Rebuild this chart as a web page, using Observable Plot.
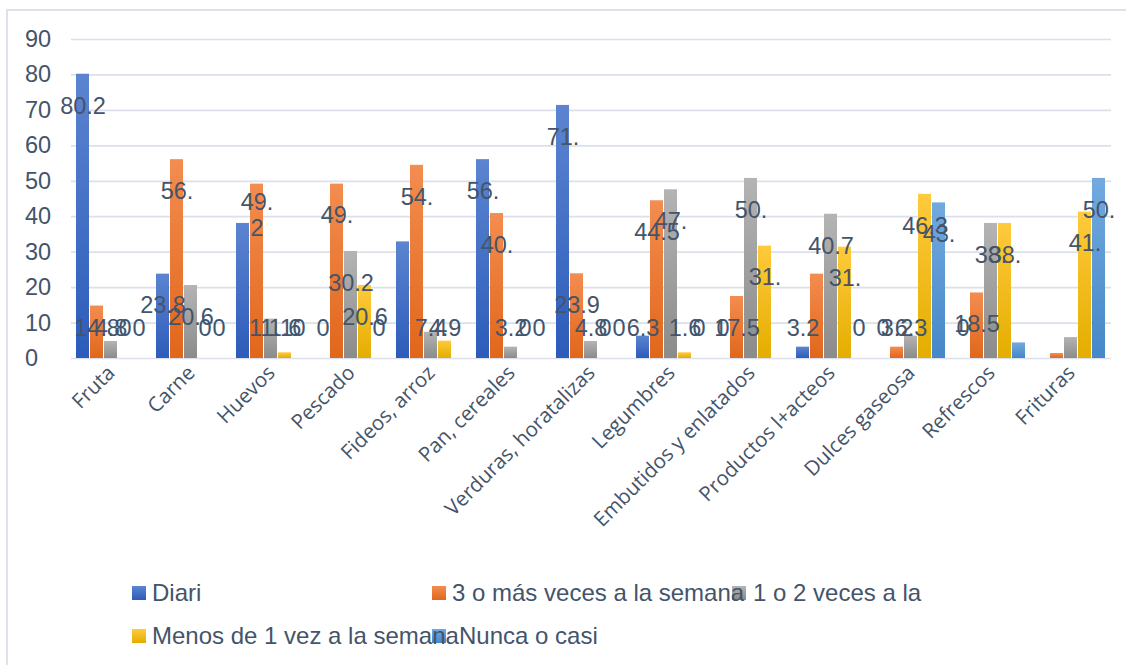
<!DOCTYPE html>
<html>
<head>
<meta charset="utf-8">
<script src="https://cdn.jsdelivr.net/npm/d3@7"></script>
<script src="https://cdn.jsdelivr.net/npm/@observablehq/plot@0.6"></script>
<style>
  html, body { margin: 0; padding: 0; background: #fff; }
  body { width: 1126px; height: 665px; overflow: hidden; position: relative; font-family: "Liberation Sans", Arial, sans-serif; }
  #frame { position: absolute; left: 6px; top: 9px; width: 1200px; height: 720px; border: 2px solid #dde1e9; box-sizing: border-box; }
  #chart { position: absolute; left: 0; top: 0; }
  #legend { position: absolute; left: 0; top: 565px; }
</style>
</head>
<body>
<div id="frame"></div>
<div id="chart"></div>
<div id="legend"></div>
<script>
// ---- data ----
const categories = ["Fruta", "Carne", "Huevos", "Pescado", "Fideos, arroz", "Pan, cereales",
  "Verduras, horatalizas", "Legumbres", "Embutidos y enlatados", "Productos l+acteos",
  "Dulces gaseosa", "Refrescos", "Frituras"];
const seriesNames = ["Diari", "3 o más veces a la semana", "1 o 2 veces a la",
  "Menos de 1 vez a la semana", "Nunca o casi"];

const diari  = [80.2, 23.8, 38.1, 0, 32.9, 56.1, 71.4, 6.3, 0, 3.2, 0, 0, 0];
const tres   = [14.8, 56.1, 49.2, 49.2, 54.5, 40.9, 23.9, 44.5, 17.5, 23.8, 3.2, 18.5, 1.4];
const unoDos = [4.8, 20.6, 11.1, 30.2, 7.4, 3.2, 4.8, 47.6, 50.8, 40.7, 6.3, 38.1, 5.9];
const menos  = [0, 0, 1.6, 20.6, 4.9, 0, 0, 1.6, 31.7, 31.4, 46.3, 38.1, 41.3];
const nunca  = [0, 0, 0, 0, 0, 0, 0, 0, 0, 0, 43.9, 4.4, 50.8];

// data labels as they appear in the picture ("" = not visible)
const diariLabels  = ["80.2", "23.8", "", "0", "", "56.", "71.", "6.3", "0", "3.2", "0", "0", ""];
const tresLabels   = ["14.8", "56.", "49.\n2", "49.", "54.", "40.", "23.9", "44.5", "17.5", "", "3.2", "18.5", ""];
const unoDosLabels = ["4.8", "20.6", "11.1", "30.2", "7.4", "3.2", "4.8", "47.", "50.", "40.7", "6.3", "38.", ""];
const menosLabels  = ["0", "0", "1.6", "20.6", "4.9", "0", "0", "1.6", "31.", "31.", "46.3", "38.", "41."];
const nuncaLabels  = ["0", "0", "0", "0", "", "0", "0", "0", "", "0", "43.", "", "50."];

const yTicks = [0, 10, 20, 30, 40, 50, 60, 70, 80, 90];

// ---- styling ----
const textColor = "#44546a";
const gradients = [
  ["#5c84d0", "#2c5cba"],
  ["#f38d50", "#e1661b"],
  ["#b4b4b4", "#8b8b8b"],
  ["#ffca3c", "#e4ad00"],
  ["#72aadf", "#4587c8"]
];

const valueSets = [diari, tres, unoDos, menos, nunca];
const labelSets = [diariLabels, tresLabels, unoDosLabels, menosLabels, nuncaLabels];
const rows = [];
categories.forEach((cat, ci) => {
  seriesNames.forEach((s, si) => {
    rows.push({cat, series: s, si, value: valueSets[si][ci], label: labelSets[si][ci]});
  });
});

const plot = Plot.plot({
  width: 1126,
  height: 565,
  marginTop: 39,
  marginBottom: 207,
  marginLeft: 71,
  marginRight: 15,
  style: {fontFamily: "'Liberation Sans', Arial, sans-serif", background: "transparent", overflow: "visible"},
  fx: {domain: categories, padding: 0, label: null, axis: null},
  x: {domain: seriesNames, paddingInner: 0.0714, paddingOuter: 0.357, axis: null},
  y: {domain: [0, 90], axis: null},
  color: {type: "identity"},
  marks: [
    Plot.ruleY(yTicks, {stroke: "#dbe0ea", strokeWidth: 1.7}),
    Plot.barY(rows, {fx: "cat", x: "series", y: "value", fill: d => `url(#grad${d.si})`}),
    Plot.text(rows.filter(d => d.label !== ""), {
      fx: "cat", x: "series",
      y: d => Math.max(d.value - 8.75, 8.75),
      text: "label", fontSize: 23.5, fill: textColor, lineHeight: 1.1
    }),
    Plot.axisY(yTicks, {tickSize: 0, tickPadding: 0, textAnchor: "start", dx: -46.5,
      fontSize: 23.5, fill: textColor, label: null}),
    Plot.axisFx({anchor: "bottom", tickRotate: -45, tickSize: 0, tickPadding: 11, fontSize: 20.5,
      fontFamily: "'Open Sans', sans-serif", fill: textColor, label: null})
  ]
});

const defs = d3.select(plot).insert("defs", ":first-child");
gradients.forEach(([top, bottom], i) => {
  const g = defs.append("linearGradient").attr("id", `grad${i}`)
    .attr("x1", 0).attr("y1", 0).attr("x2", 0).attr("y2", 1);
  g.append("stop").attr("offset", "0%").attr("stop-color", top);
  g.append("stop").attr("offset", "100%").attr("stop-color", bottom);
});
document.getElementById("chart").appendChild(plot);

// ---- legend ----
const legendItems = [
  {i: 0, x: 132, row: 0},
  {i: 1, x: 432, row: 0},
  {i: 2, x: 732, row: 0},
  {i: 3, x: 132, row: 1},
  {i: 4, x: 432, row: 1}
];
const textX = [152, 452, 753, 152, 459];
const lsvg = d3.select("#legend").append("svg").attr("width", 1126).attr("height", 100)
  .style("overflow", "visible");
const ldefs = lsvg.append("defs");
gradients.forEach(([top, bottom], i) => {
  const g = ldefs.append("linearGradient").attr("id", `lgrad${i}`)
    .attr("x1", 0).attr("y1", 0).attr("x2", 0).attr("y2", 1);
  g.append("stop").attr("offset", "0%").attr("stop-color", top);
  g.append("stop").attr("offset", "100%").attr("stop-color", bottom);
});
const rowCenter = [593 - 565, 636 - 565];
legendItems.forEach((it) => {
  lsvg.append("rect").attr("x", it.x).attr("y", rowCenter[it.row] - 7)
    .attr("width", 14).attr("height", 14).attr("fill", `url(#lgrad${it.i})`);
});
legendItems.forEach((it, k) => {
  lsvg.append("text").attr("x", textX[k]).attr("y", rowCenter[it.row] + 8)
    .attr("font-size", 24).attr("fill", textColor)
    .attr("font-family", "'Liberation Sans', Arial, sans-serif")
    .text(seriesNames[it.i]);
});
</script>
</body>
</html>
